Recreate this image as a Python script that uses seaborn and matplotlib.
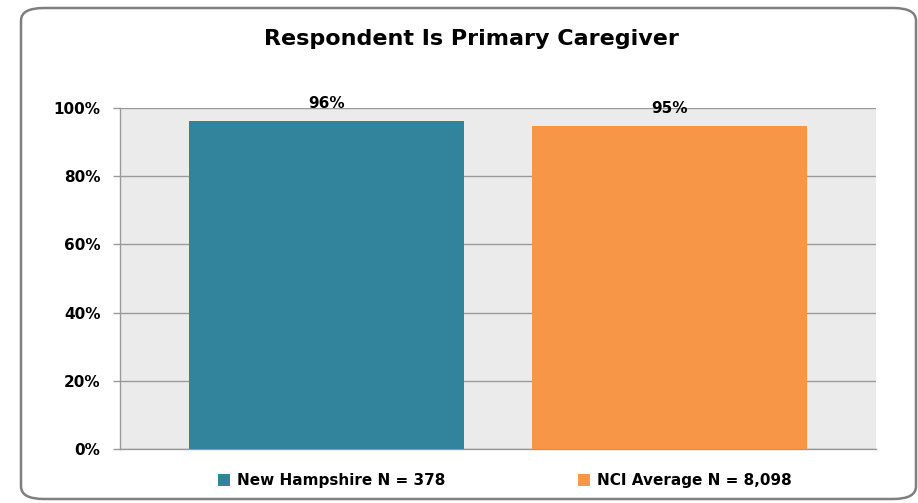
import matplotlib
matplotlib.use("Agg")
import matplotlib.pyplot as plt
from matplotlib.patches import FancyBboxPatch, Patch
import seaborn as sns
import pandas as pd

sns.set_style("white")
plt.rcParams['font.family'] = ['DejaVu Sans']
plt.rcParams['text.color'] = 'black'
plt.rcParams['ytick.labelcolor'] = 'black'

groups = ["New Hampshire N = 378", "NCI Average N = 8,098"]
values = [96.2, 94.6]
labels = ["96%", "95%"]
colors = ["#31849b", "#f79646"]
yticks = [0, 20, 40, 60, 80, 100]

df = pd.DataFrame({"group": groups, "value": values})

fig = plt.figure(figsize=(9.18, 5.03), dpi=100)
ax = fig.add_axes([120 / 918, 1 - 449 / 503, 756 / 918, 341 / 503])

# rounded outer frame
frame = FancyBboxPatch((21 / 918, 4 / 503), 895 / 918, 491 / 503,
                       boxstyle="round,pad=0,rounding_size=0.025",
                       transform=fig.transFigure, facecolor="none",
                       edgecolor="#7f7f7f", linewidth=1.8, zorder=0)
fig.patches.append(frame)

sns.barplot(data=df, x="group", y="value", hue="group", palette=colors,
            width=0.8, saturation=1, legend=False, ax=ax, zorder=3,
            linewidth=0, edgecolor="none")

ax.set_facecolor("#ebebeb")
ax.set_xlim(-0.6, 1.6)
ax.set_ylim(0, 100)
ax.set_yticks(yticks)
ax.set_yticklabels([f"{t}%" for t in yticks], fontsize=11, fontweight="bold", color="black")
ax.set_xticks([])
ax.set_xlabel("")
ax.set_ylabel("")
ax.yaxis.grid(True, color="#9a9a9a", linewidth=1, zorder=0)
ax.set_axisbelow(True)
ax.tick_params(axis="y", left=True, length=5, width=1, color="#9a9a9a", pad=9)
for s in ["top", "right"]:
    ax.spines[s].set_visible(False)
for s in ["left", "bottom"]:
    ax.spines[s].set_color("#9a9a9a")
    ax.spines[s].set_linewidth(1)

for i, (v, lab) in enumerate(zip(values, labels)):
    ax.text(i, v + 3.9, lab, ha="center", va="baseline", fontsize=11, fontweight="bold")

fig.text(471 / 918, 1 - 39 / 503, "Respondent Is Primary Caregiver",
         ha="center", va="center", fontsize=16, fontweight="bold")

handles = [Patch(facecolor=c, edgecolor="none") for c in colors]
fig.legend(handles, groups, loc="center", bbox_to_anchor=(505 / 918, 1 - 481 / 503),
           ncol=2, frameon=False, prop={"size": 11, "weight": "bold"},
           handlelength=0.8, handleheight=0.8, columnspacing=8.7, handletextpad=0.45)

fig.savefig("out.png", dpi=100)
